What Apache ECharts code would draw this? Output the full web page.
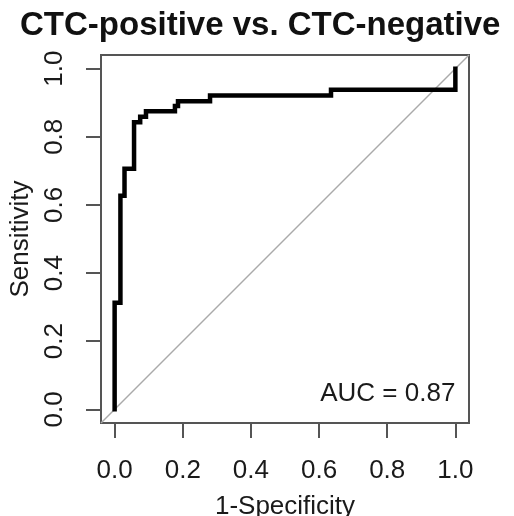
<!DOCTYPE html>
<html>
<head>
<meta charset="utf-8">
<script src="https://cdn.jsdelivr.net/npm/echarts@6/dist/echarts.min.js"></script>
<style>
  html, body { margin: 0; padding: 0; background: #fff; }
  #chart { width: 514px; height: 516px; }
</style>
</head>
<body>
<div id="chart"></div>
<script>
// ROC curve points: false positive rate (1-Specificity) and sensitivity
var fpr = [0.000, 0.000, 0.017, 0.017, 0.029, 0.029, 0.057, 0.057, 0.075, 0.075, 0.092, 0.092, 0.177, 0.177, 0.186, 0.186, 0.280, 0.280, 0.635, 0.635, 1.000, 1.000];
var tpr = [0.000, 0.313, 0.313, 0.627, 0.627, 0.706, 0.706, 0.843, 0.843, 0.859, 0.859, 0.875, 0.875, 0.890, 0.890, 0.904, 0.904, 0.921, 0.921, 0.938, 0.938, 1.000];
// reference diagonal (spans whole plotting region)
var diagX = [-0.04, 1.04];
var diagY = [-0.04, 1.04];
var tickValues = [0, 0.2, 0.4, 0.6, 0.8, 1.0];
var titleText = 'CTC-positive vs. CTC-negative';
var xName = '1-Specificity';
var yName = 'Sensitivity';
var aucText = 'AUC = 0.87';
var aucPos = [1.0, 0.047];

var rocData = fpr.map(function (v, i) { return [v, tpr[i]]; });
var diagData = diagX.map(function (v, i) { return [v, diagY[i]]; });

var font = 'Liberation Sans, Arial, Helvetica, sans-serif';
var axisCol = '#555';
var textCol = '#1a1a1a';

var chart = echarts.init(document.getElementById('chart'), null, { renderer: 'canvas' });
chart.setOption({
  backgroundColor: '#fff',
  animation: false,
  title: {
    text: titleText,
    left: 15,
    top: 4,
    textStyle: { fontFamily: font, fontWeight: 'bold', fontSize: 33, color: '#111' }
  },
  grid: {
    left: 101, right: 45, top: 55, bottom: 93,
    containLabel: false, outerBoundsMode: 'none',
    show: true, borderColor: axisCol, borderWidth: 2, backgroundColor: 'transparent'
  },
  xAxis: {
    type: 'value', min: -0.04, max: 1.04,
    name: xName, nameLocation: 'middle', nameGap: 71,
    nameTextStyle: { fontFamily: font, fontSize: 26, color: textCol },
    axisLine: { show: false, onZero: false },
    splitLine: { show: false },
    axisTick: { show: true, inside: false, customValues: tickValues, length: 15, lineStyle: { color: axisCol, width: 2 } },
    axisLabel: {
      customValues: tickValues, margin: 35, fontFamily: font, fontSize: 26, color: textCol,
      formatter: function (v) { return v.toFixed(1); }
    }
  },
  yAxis: {
    type: 'value', min: -0.04, max: 1.04,
    name: yName, nameLocation: 'middle', nameGap: 60, nameRotate: 90,
    nameTextStyle: { fontFamily: font, fontSize: 26, color: textCol },
    axisLine: { show: false, onZero: false },
    splitLine: { show: false },
    axisTick: { show: true, inside: false, customValues: tickValues, length: 15, lineStyle: { color: axisCol, width: 2 } },
    axisLabel: {
      customValues: tickValues, margin: 33, rotate: 90, fontFamily: font, fontSize: 26, color: textCol,
      formatter: function (v) { return v.toFixed(1); }
    }
  },
  series: [
    {
      type: 'line', data: diagData, symbol: 'none', silent: true,
      lineStyle: { color: '#aaa', width: 1.5 }, z: 1
    },
    {
      type: 'line', data: rocData, symbol: 'none', silent: true,
      lineStyle: { color: '#000', width: 4.5, join: 'miter', cap: 'square' }, z: 2
    },
    {
      type: 'scatter', data: [aucPos], symbolSize: 0, silent: true,
      itemStyle: { opacity: 1 },
      label: {
        show: true, position: 'left', distance: 0, formatter: aucText,
        fontFamily: font, fontSize: 26, color: textCol
      }
    }
  ]
});
</script>
</body>
</html>
